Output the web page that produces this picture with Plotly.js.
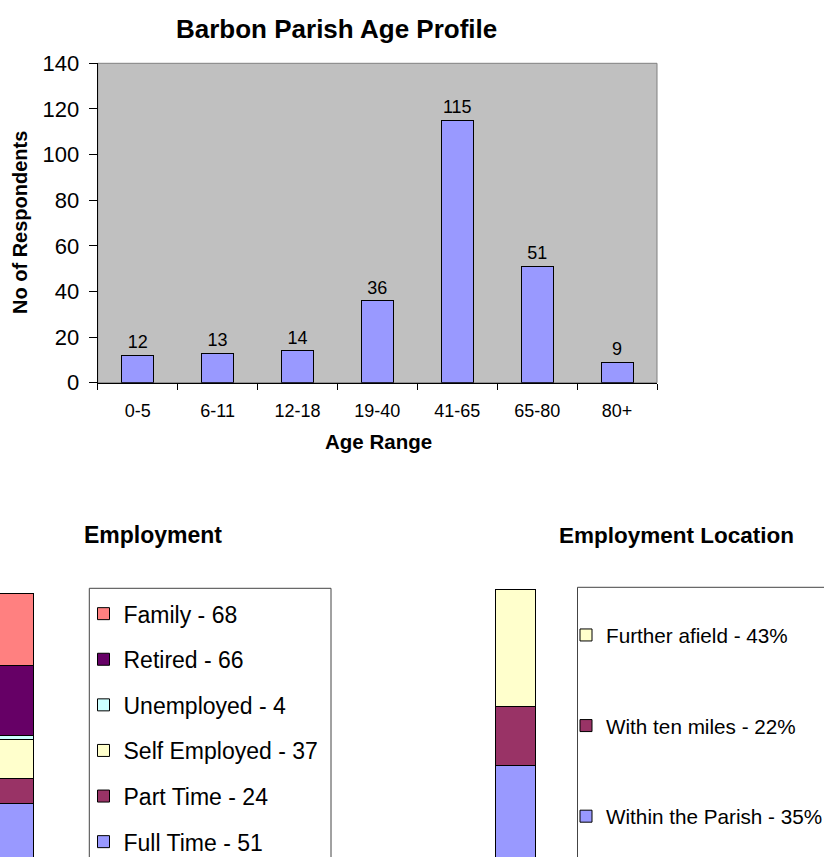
<!DOCTYPE html>
<html>
<head>
<meta charset="utf-8">
<script src="https://cdn.plot.ly/plotly-3.0.1.min.js"></script>
<style>
  html, body { margin: 0; padding: 0; background: #ffffff; overflow: hidden; }
  #chart { width: 824px; height: 857px; }
</style>
</head>
<body>
<div id="chart"></div>
<script>
// ---- Data ----
const ageRanges = ['0-5', '6-11', '12-18', '19-40', '41-65', '65-80', '80+'];
const respondents = [12, 13, 14, 36, 115, 51, 9];

const employmentCats = ['Full Time', 'Part Time', 'Self Employed', 'Unemployed', 'Retired', 'Family'];
const employmentCounts = [51, 24, 37, 4, 66, 68];
const employmentColors = ['#9999FF', '#993366', '#FFFFCC', '#CCFFFF', '#660066', '#FF8080'];

const locationCats = ['Within the Parish', 'With ten miles', 'Further afield'];
const locationPct = [35, 22, 43];
const locationColors = ['#9999FF', '#993366', '#FFFFCC'];

// ---- Helpers (pixel -> paper) ----
const W = 824, H = 857;
const px = x => x / W;
const py = y => 1 - y / H;
const FONT = 'Arial, "Liberation Sans", Helvetica, sans-serif';

const traces = [];

// Age profile bars
traces.push({
  type: 'bar',
  x: ageRanges,
  y: respondents,
  text: respondents.map(String),
  textposition: 'outside',
  constraintext: 'none',
  cliponaxis: false,
  textfont: { family: FONT, size: 18, color: '#000' },
  marker: { color: '#9999FF', line: { color: '#000', width: 1 } },
  width: 0.4,
  showlegend: false,
  hoverinfo: 'x+y',
  xaxis: 'x', yaxis: 'y'
});

// Employment stacked bar (bottom to top)
const nE = employmentCats.length;
employmentCats.forEach((c, i) => {
  traces.push({
    type: 'bar',
    x: [0],
    y: [employmentCounts[i]],
    name: c + ' - ' + employmentCounts[i],
    marker: { color: employmentColors[i], line: { color: '#000', width: 1 } },
    width: 1,
    legend: 'legend',
    legendgroup: 'e' + i,
    legendrank: nE - i,
    xaxis: 'x2', yaxis: 'y2'
  });
});

// Employment location stacked bar (bottom to top)
const nL = locationCats.length;
locationCats.forEach((c, i) => {
  traces.push({
    type: 'bar',
    x: [0],
    y: [locationPct[i]],
    name: c + ' - ' + locationPct[i] + '%',
    marker: { color: locationColors[i], line: { color: '#000', width: 1 } },
    width: 1,
    legend: 'legend2',
    legendgroup: 'l' + i,
    legendrank: nL - i,
    xaxis: 'x3', yaxis: 'y3'
  });
});

const hidden = {
  showgrid: false, zeroline: false, showline: false, showticklabels: false, ticks: ''
};

const layout = {
  width: W, height: H,
  autosize: false,
  margin: { l: 0, r: 0, t: 0, b: 0, pad: 0, autoexpand: false },
  paper_bgcolor: '#ffffff',
  plot_bgcolor: 'rgba(0,0,0,0)',
  barmode: 'stack',
  font: { family: FONT, color: '#000' },
  xaxis: {
    domain: [px(97.7), px(657)],
    anchor: 'y',
    type: 'category',
    showgrid: false, zeroline: false,
    showline: true, linecolor: '#000', linewidth: 1,
    ticks: 'outside', tickson: 'boundaries', ticklen: 6, tickcolor: '#000', tickwidth: 1,
    ticklabelstandoff: 12,
    tickfont: { family: FONT, size: 18, color: '#000' },
    automargin: false,
    fixedrange: true
  },
  yaxis: {
    domain: [py(382.7), py(63.3)],
    anchor: 'x',
    range: [0, 140], dtick: 20,
    showgrid: false, zeroline: false,
    showline: true, linecolor: '#000', linewidth: 1,
    ticks: 'outside', ticklen: 8, tickcolor: '#000', tickwidth: 1,
    ticklabelstandoff: 5,
    tickfont: { family: FONT, size: 22, color: '#000' },
    automargin: false,
    fixedrange: true
  },
  xaxis2: Object.assign({ domain: [0, px(66)], anchor: 'y2', range: [-0.325, 1.325], fixedrange: true }, hidden),
  yaxis2: Object.assign({ domain: [0, py(580)], anchor: 'x2', range: [0.94, 262.3], fixedrange: true }, hidden),
  xaxis3: Object.assign({ domain: [px(475), px(555)], anchor: 'y3', range: [-1, 1], fixedrange: true }, hidden),
  yaxis3: Object.assign({ domain: [0, py(575)], anchor: 'x3', range: [1.44, 105.3], fixedrange: true }, hidden),
  legend: {
    x: px(83.5), y: py(592.2), xanchor: 'left', yanchor: 'top',
    xref: 'paper', yref: 'paper',
    bgcolor: 'rgba(0,0,0,0)', borderwidth: 0,
    traceorder: 'grouped', tracegroupgap: 12.7,
    font: { family: FONT, size: 23, color: '#000' }
  },
  legend2: {
    x: px(566), y: py(615), xanchor: 'left', yanchor: 'top',
    xref: 'paper', yref: 'paper',
    bgcolor: 'rgba(0,0,0,0)', borderwidth: 0,
    traceorder: 'grouped', tracegroupgap: 60.7,
    font: { family: FONT, size: 20.7, color: '#000' }
  },
  shapes: [
    { type: 'rect', xref: 'x domain', yref: 'y domain', x0: 0, x1: 1, y0: 0, y1: 1,
      fillcolor: '#C0C0C0', line: { color: '#808080', width: 1 }, layer: 'below' },
    { type: 'path', xref: 'paper', yref: 'paper',
      path: 'M ' + px(89.3) + ' ' + py(870) + ' L ' + px(89.3) + ' ' + py(588.3) +
            ' L ' + px(331) + ' ' + py(588.3) + ' L ' + px(331) + ' ' + py(870),
      line: { color: '#444', width: 1 }, layer: 'below' },
    { type: 'path', xref: 'paper', yref: 'paper',
      path: 'M ' + px(577.5) + ' ' + py(870) + ' L ' + px(577.5) + ' ' + py(587.3) +
            ' L ' + px(840) + ' ' + py(587.3),
      line: { color: '#444', width: 1 }, layer: 'below' }
  ],
  annotations: [
    { text: '<b>Barbon Parish Age Profile</b>', xref: 'paper', yref: 'paper',
      x: px(336), y: py(29), xanchor: 'center', yanchor: 'middle', showarrow: false,
      font: { family: FONT, size: 26, color: '#000' } },
    { text: '<b>No of Respondents</b>', xref: 'paper', yref: 'paper', textangle: -90,
      x: px(20), y: py(223), xanchor: 'center', yanchor: 'middle', showarrow: false,
      font: { family: FONT, size: 20, color: '#000' } },
    { text: '<b>Age Range</b>', xref: 'paper', yref: 'paper',
      x: px(378), y: py(441), xanchor: 'center', yanchor: 'middle', showarrow: false,
      font: { family: FONT, size: 20.5, color: '#000' } },
    { text: '<b>Employment</b>', xref: 'paper', yref: 'paper',
      x: px(153), y: py(535), xanchor: 'center', yanchor: 'middle', showarrow: false,
      font: { family: FONT, size: 23, color: '#000' } },
    { text: '<b>Employment Location</b>', xref: 'paper', yref: 'paper',
      x: px(676), y: py(535), xanchor: 'center', yanchor: 'middle', showarrow: false,
      font: { family: FONT, size: 22.5, color: '#000' } }
  ]
};

Plotly.newPlot('chart', traces, layout, { staticPlot: true, displayModeBar: false });
</script>
</body>
</html>
